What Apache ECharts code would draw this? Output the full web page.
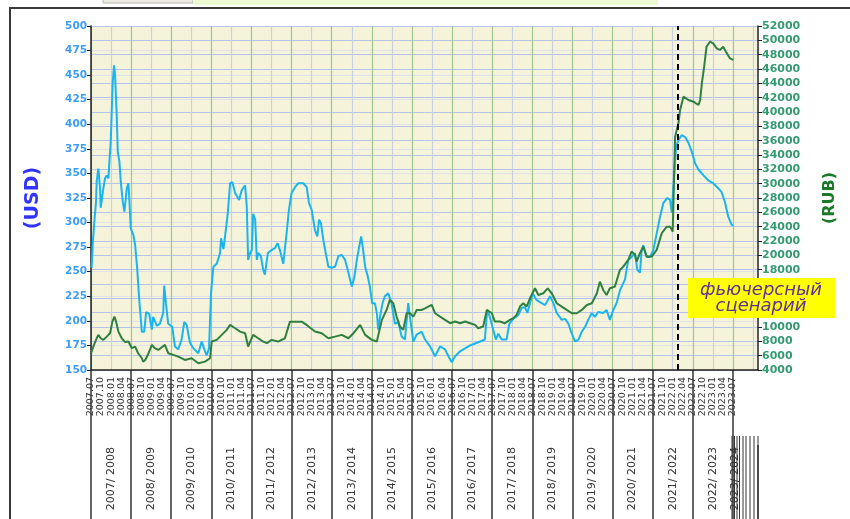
<!DOCTYPE html>
<html>
<head>
<meta charset="utf-8">
<script src="https://cdn.jsdelivr.net/npm/echarts@6/dist/echarts.min.js"></script>
<style>
  html, body { margin: 0; padding: 0; background: #fff; }
  #chart { width: 850px; height: 519px; }
</style>
</head>
<body>
<div id="chart"></div>
<script>
// x is months counted from 2007.07
const quarterLabels = [
  '2007.07', '2007.10',
  '2008.01', '2008.04', '2008.07', '2008.10',
  '2009.01', '2009.04', '2009.07', '2009.10',
  '2010.01', '2010.04', '2010.07', '2010.10',
  '2011.01', '2011.04', '2011.07', '2011.10',
  '2012.01', '2012.04', '2012.07', '2012.10',
  '2013.01', '2013.04', '2013.07', '2013.10',
  '2014.01', '2014.04', '2014.07', '2014.10',
  '2015.01', '2015.04', '2015.07', '2015.10',
  '2016.01', '2016.04', '2016.07', '2016.10',
  '2017.01', '2017.04', '2017.07', '2017.10',
  '2018.01', '2018.04', '2018.07', '2018.10',
  '2019.01', '2019.04', '2019.07', '2019.10',
  '2020.01', '2020.04', '2020.07', '2020.10',
  '2021.01', '2021.04', '2021.07', '2021.10',
  '2022.01', '2022.04', '2022.07', '2022.10',
  '2023.01', '2023.04', '2023.07'
]

const seasons = [
  '2007/ 2008', '2008/ 2009', '2009/ 2010', '2010/ 2011', '2011/ 2012', '2012/ 2013',
  '2013/ 2014', '2014/ 2015', '2015/ 2016', '2016/ 2017', '2017/ 2018', '2018/ 2019',
  '2019/ 2020', '2020/ 2021', '2021/ 2022', '2022/ 2023', '2023/ 2024'
]

// price in USD, [month, value]
const usdPoints = [
  [0.2, 254], [0.5, 277], [1.0, 301], [1.5, 321], [1.7, 342], [2.2, 355], [2.7, 335], [2.9, 315],
  [3.4, 313], [3.7, 335], [4.2, 345], [4.7, 348], [5.2, 345], [5.5, 362], [5.9, 382], [6.2, 413],
  [6.5, 443], [6.9, 460], [7.2, 450], [7.7, 409], [8.0, 372], [8.5, 362], [8.9, 342], [9.5, 321],
  [10.0, 311], [10.5, 309], [10.7, 335], [11.2, 340], [11.5, 321], [11.9, 294], [12.7, 287], [13.2, 277],
  [13.8, 254], [14.4, 223], [15.2, 189], [15.9, 189], [16.5, 209], [17.4, 207], [18.2, 191], [18.6, 204],
  [19.7, 195], [20.6, 197], [21.6, 208], [21.9, 236], [22.4, 218], [23.1, 197], [24.3, 194], [25.1, 174],
  [26.1, 171], [27.1, 181], [27.9, 199], [28.6, 196], [29.6, 178], [30.6, 172], [32.1, 167], [33.1, 179],
  [33.9, 171], [34.6, 165], [35.3, 172], [35.9, 228], [36.6, 255], [37.6, 258], [38.6, 269], [38.9, 284],
  [39.6, 273], [40.1, 286], [40.9, 309], [41.6, 340], [42.3, 341], [43.1, 330], [44.3, 323], [45.1, 333],
  [46.1, 338], [46.6, 316], [47.0, 262], [47.6, 269], [48.1, 272], [48.5, 309], [49.1, 303], [49.6, 262],
  [50.0, 269], [50.8, 266], [51.5, 252], [52.0, 247], [52.9, 269], [54.0, 272], [55.0, 274], [55.8, 279],
  [56.5, 272], [57.5, 258], [58.0, 260], [58.5, 289], [59.2, 313], [60.0, 330], [61.0, 336], [62.0, 340],
  [63.5, 340], [64.5, 336], [65.2, 320], [66.0, 313], [67.0, 292], [67.7, 286], [68.2, 303], [68.8, 299],
  [69.5, 282], [70.2, 269], [71.0, 255], [72.0, 254], [73.0, 255], [74.0, 266], [75.0, 267], [76.0, 262],
  [77.0, 249], [78.0, 235], [78.8, 245], [79.5, 262], [80.2, 275], [80.8, 286], [81.4, 272], [82.0, 255],
  [82.8, 245], [83.4, 235], [84.1, 218], [84.9, 218], [85.5, 208], [85.9, 191], [86.4, 203], [87.2, 218],
  [87.9, 225], [88.9, 228], [89.9, 218], [90.9, 197], [91.9, 199], [92.9, 184], [93.9, 181], [94.9, 218],
  [95.4, 204], [96.4, 179], [97.4, 186], [98.9, 189], [99.9, 181], [101.4, 174], [102.9, 164], [104.4, 174],
  [105.9, 171], [106.9, 164], [107.9, 158], [108.9, 164], [110.4, 169], [111.9, 172], [113.4, 175], [114.9, 177],
  [116.4, 179], [117.8, 181], [118.5, 211], [119.3, 204], [120.3, 191], [121.1, 181], [121.8, 187], [122.8, 181],
  [124.3, 181], [125.1, 197], [126.3, 202], [127.8, 206], [128.8, 213], [129.8, 214], [130.5, 208], [131.3, 218],
  [132.1, 228], [133.3, 221], [134.8, 218], [135.8, 216], [137.3, 225], [138.3, 218], [139.3, 208], [140.8, 201],
  [141.8, 202], [142.8, 197], [143.8, 187], [144.8, 179], [145.8, 181], [146.8, 189], [147.8, 194], [148.7, 201],
  [149.8, 208], [150.7, 204], [151.7, 209], [153.2, 208], [154.2, 211], [155.2, 201], [156.2, 211], [157.2, 218],
  [158.2, 231], [159.7, 242], [160.7, 262], [161.7, 265], [162.7, 269], [163.4, 252], [164.2, 249], [164.7, 272],
  [165.2, 277], [166.2, 265], [167.2, 265], [168.2, 272], [169.2, 289], [170.2, 306], [171.2, 320], [172.4, 325],
  [173.2, 323], [173.7, 310], [174.4, 347], [175.0, 377], [175.7, 384], [176.7, 389], [177.7, 387], [178.7, 381],
  [179.7, 372], [180.7, 360], [181.7, 354], [183.2, 348], [184.6, 343], [186.1, 340], [187.6, 335], [188.6, 331],
  [189.6, 321], [190.6, 306], [191.6, 298], [192.1, 297]
]

// price in RUB, [month, value]
const rubPoints = [
  [0, 6340], [0.9, 7500], [1.7, 8430], [2.2, 8900], [2.9, 8430], [3.7, 8200], [4.7, 8660], [5.7, 9130],
  [6.4, 10750], [7.0, 11450], [7.5, 10750], [8.2, 9360], [9.2, 8430], [10.2, 7900], [11.2, 7970], [12.2, 7040],
  [13.2, 7270], [14.1, 6340], [15.2, 5640], [15.6, 5170], [16.2, 5400], [17.1, 6200], [18.2, 7500], [19.1, 7040],
  [20.1, 6800], [22.1, 7500], [23.1, 6340], [24.6, 6110], [26.1, 5870], [28.1, 5400], [30.1, 5640], [32.1, 4950],
  [34.1, 5170], [35.6, 5640], [36.1, 7970], [37.6, 8200], [39.1, 8900], [40.6, 9600], [41.6, 10290], [43.1, 9830],
  [44.6, 9360], [46.1, 9130], [47.0, 7270], [48.5, 8900], [50.0, 8430], [51.5, 7970], [52.6, 7740], [54.0, 8200],
  [56.0, 7970], [58.0, 8430], [59.5, 10750], [61.0, 10750], [63.0, 10750], [64.5, 10290], [67.0, 9360], [69.0, 9130],
  [71.0, 8430], [73.0, 8660], [75.0, 8900], [77.0, 8430], [78.5, 9130], [80.5, 10290], [82.0, 8900], [84.0, 8200],
  [85.5, 7970], [85.9, 7800], [87.0, 11000], [88.4, 12380], [89.4, 13780], [90.4, 13310], [91.4, 11450], [92.4, 10060],
  [93.4, 9600], [94.4, 11920], [95.4, 11920], [96.4, 11450], [97.4, 12380], [98.9, 12380], [99.9, 12610], [101.9, 13080],
  [102.9, 11920], [104.4, 11450], [105.9, 10990], [107.4, 10530], [108.9, 10760], [110.4, 10530], [111.9, 10760], [113.4, 10530],
  [114.9, 10290], [115.8, 9830], [117.3, 10060], [118.4, 12380], [118.8, 12610], [119.9, 11920], [120.8, 10760], [122.3, 10760],
  [123.8, 10530], [125.3, 10990], [126.3, 11220], [127.3, 11690], [128.3, 12850], [129.3, 13310], [130.3, 12850], [131.3, 14010],
  [132.8, 15400], [133.8, 14470], [135.3, 14710], [136.6, 15400], [137.8, 14710], [139.3, 13310], [140.8, 12850], [142.3, 12380],
  [143.8, 11920], [145.3, 11920], [146.8, 12380], [148.3, 13080], [149.8, 13310], [151.3, 14710], [152.2, 16330], [153.2, 15170],
  [154.2, 14470], [155.2, 15400], [156.7, 15640], [158.2, 17960], [159.2, 18430], [160.7, 19360], [161.7, 20530], [162.7, 20060],
  [163.2, 19130], [164.2, 20300], [165.2, 21220], [166.2, 19830], [167.7, 19830], [169.2, 20760], [170.7, 23080], [172.2, 24000],
  [173.2, 24000], [174.0, 23310], [174.3, 29120], [174.7, 36560], [175.7, 38430], [176.2, 40290], [177.2, 42140], [178.7, 41670],
  [180.2, 41440], [181.7, 40980], [182.2, 41670], [182.7, 44000], [183.4, 46320], [184.1, 49110], [185.1, 49810], [186.1, 49580],
  [187.1, 48890], [188.1, 48660], [189.1, 49110], [189.9, 48420], [191.1, 47490], [192.1, 47260]
]

const scenarioStart = 175.6   // start of the futures scenario (early 2022)
const scenarioText = 'фьючерсный\nсценарий'

const FONT = 'DejaVu Sans'
const X_MAX = 199.5

const chart = echarts.init(document.getElementById('chart'))

// short vertical strokes at the bottom right corner
const hatch = [732, 734.5, 737, 739.5, 743, 746, 750, 754, 758].map(x => ({
  type: 'line',
  shape: { x1: x, y1: 436, x2: x, y2: 519 },
  style: { stroke: '#333', lineWidth: 1 },
  z: 10,
}))

chart.setOption({
  animation: false,
  backgroundColor: '#ffffff',
  grid: [
    { left: 91, right: 92, top: 26, bottom: 149, show: true, backgroundColor: '#f5f3da', borderWidth: 0 },
    { left: 91, right: 92, top: 370, height: 75, show: false },
  ],
  xAxis: [
    {
      type: 'value', gridIndex: 0, min: 0, max: X_MAX, interval: 3,
      axisLine: { lineStyle: { color: '#222', width: 1.5 } },
      axisTick: { show: false },
      splitLine: {
        show: true,
        // July lines green, January lines pale
        lineStyle: { color: ['#9fc78f', 'rgba(0,0,0,0)', '#c9d1de', 'rgba(0,0,0,0)'], width: 1.2 },
      },
      axisLabel: {
        rotate: 90, fontSize: 9.5, color: '#333', fontFamily: FONT, margin: 7,
        formatter: v => quarterLabels[v / 3] || '',
      },
    },
    {
      type: 'value', gridIndex: 1, min: 0, max: X_MAX, interval: 12,
      axisLine: { show: false },
      axisTick: { show: true, length: 74, lineStyle: { color: '#333', width: 1.5 } },
      splitLine: { show: true, showMaxLine: false, lineStyle: { color: '#333', width: 1.5 } },
      axisLabel: {
        customValues: seasons.map((s, i) => Math.min(i * 12 + 6, 192.6)),
        rotate: 90, margin: 2, fontSize: 11, color: '#333', fontFamily: FONT,
        formatter: v => seasons[Math.floor(v / 12)] || '',
      },
    },
  ],
  yAxis: [
    {
      type: 'value', gridIndex: 0, position: 'left', min: 150, max: 500, interval: 25,
      name: '(USD)', nameLocation: 'middle', nameRotate: 90, nameGap: 48,
      nameTextStyle: { color: '#3333ff', fontSize: 19, fontWeight: 'bold', fontFamily: FONT },
      axisLine: { show: true, lineStyle: { color: '#222', width: 1.5 } },
      axisTick: { show: true, length: 4, lineStyle: { color: '#222' } },
      axisLabel: { color: '#3d9df5', fontWeight: 'bold', fontSize: 10.5, fontFamily: FONT, margin: 4 },
      splitLine: { show: true, lineStyle: { color: '#e0e2ea' } },
    },
    {
      type: 'value', gridIndex: 0, position: 'right', min: 4000, max: 52000, interval: 2000,
      name: '(RUB)', nameLocation: 'middle', nameRotate: 90, nameGap: 64,
      nameTextStyle: { color: '#1b7a2a', fontSize: 16, fontWeight: 'bold', fontFamily: FONT },
      axisLine: { show: true, lineStyle: { color: '#222', width: 1.5 } },
      axisTick: { show: true, length: 4, lineStyle: { color: '#222' } },
      axisLabel: {
        color: '#349a72', fontWeight: 'bold', fontSize: 11, fontFamily: FONT, margin: 4,
        formatter: v => String(v),
      },
      splitLine: { show: true, lineStyle: { color: '#b7c2ea' } },
    },
    { type: 'value', gridIndex: 1, show: false },
  ],
  series: [
    {
      name: 'USD', type: 'line', xAxisIndex: 0, yAxisIndex: 0,
      data: usdPoints, showSymbol: false, symbol: 'none',
      lineStyle: { color: '#19b5ee', width: 2 },
    },
    {
      name: 'RUB', type: 'line', xAxisIndex: 0, yAxisIndex: 1,
      data: rubPoints, showSymbol: false, symbol: 'none',
      lineStyle: { color: '#2f7f3f', width: 2 },
      markLine: {
        silent: true, symbol: 'none', label: { show: false },
        lineStyle: { color: '#000', type: [6, 4], width: 2 },
        data: [{ xAxis: scenarioStart }],
      },
    },
  ],
  graphic: [
    { type: 'rect', shape: { x: 10, y: 8, width: 860, height: 540 }, style: { fill: 'none', stroke: '#3a3a3a', lineWidth: 2 }, z: 10 },
    { type: 'rect', shape: { x: 103, y: -2, width: 90, height: 5 }, style: { fill: '#ececE4', stroke: '#b8b8b0', lineWidth: 1 }, z: 10 },
    { type: 'rect', shape: { x: 193, y: -2, width: 465, height: 7 }, style: { fill: '#ecfad2' }, z: 10 },
    ...hatch,
    { type: 'rect', shape: { x: 688, y: 278, width: 147, height: 40 }, style: { fill: '#ffff00' }, z: 20 },
    {
      type: 'text', x: 761, y: 298, z: 21,
      style: {
        text: scenarioText, align: 'center', verticalAlign: 'middle',
        font: 'italic 18px "DejaVu Sans"', lineHeight: 16, fill: '#5c2ea0',
      },
    },
  ],
})
</script>
</body>
</html>
